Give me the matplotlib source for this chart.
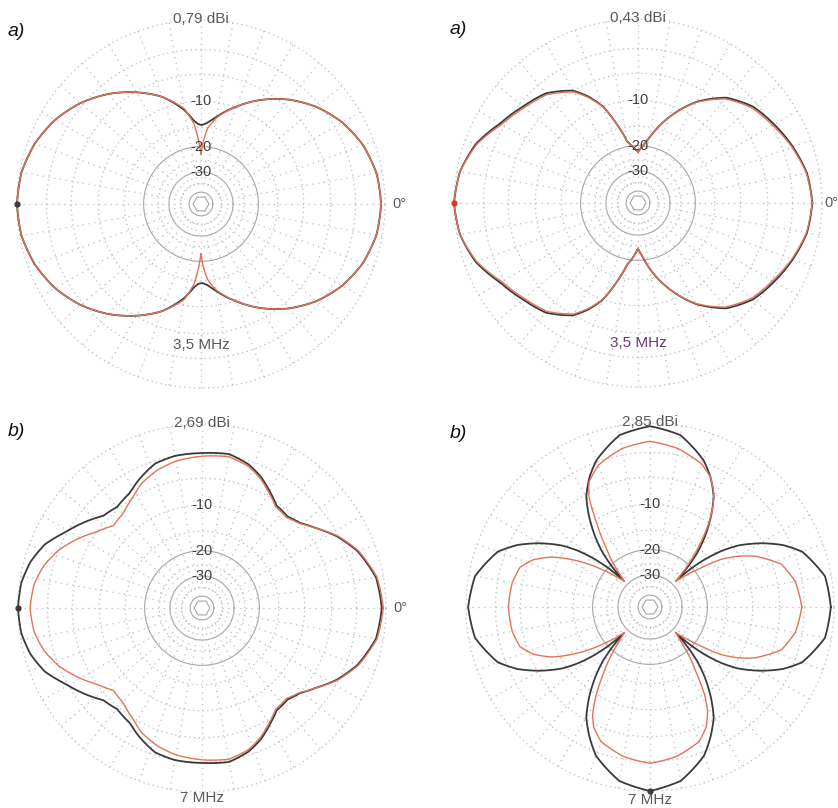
import numpy as np
import matplotlib
matplotlib.use("Agg")
import matplotlib.pyplot as plt
from matplotlib.patches import RegularPolygon

plt.rcParams['font.family'] = ['Liberation Sans', 'DejaVu Sans']

# ---------------- data (relative field strength in dB vs azimuth in degrees) -------------
# Top-left: a) 3,5 MHz, max 0,79 dBi
tl_ang = [0, 10, 20, 30, 40, 50, 60, 70, 80, 85, 88, 90, 92, 95, 100, 110, 120, 130, 140, 150, 160, 170, 180,
          190, 200, 210, 220, 230, 240, 250, 260, 265, 268, 270, 272, 275, 280, 290, 300, 310, 320, 330, 340, 350, 360]
tl_black = [-0.37, -0.55, -1.12, -2.06, -3.4, -5.15, -7.3, -9.85, -12.6, -13.9, -14.4, -14.5, -14.3, -13.5, -11.3,
            -8.2, -6.1, -4.24, -2.71, -1.52, -0.68, -0.16, 0.0,
            -0.16, -0.68, -1.52, -2.71, -4.24, -6.1, -8.2, -11.3, -13.5, -14.3, -14.5, -14.4, -13.9, -12.6,
            -9.85, -7.3, -5.15, -3.4, -2.06, -1.12, -0.55, -0.37]
tl_red = [-0.37, -0.55, -1.12, -2.06, -3.4, -5.15, -7.3, -9.85, -12.8, -15.2, -18.5, -22.5, -18.5, -14.2, -11.0,
          -8.2, -6.1, -4.24, -2.71, -1.52, -0.68, -0.16, 0.0,
          -0.16, -0.68, -1.52, -2.71, -4.24, -6.1, -8.2, -11.0, -14.2, -18.5, -22.5, -18.5, -15.2, -12.8,
          -9.85, -7.3, -5.15, -3.4, -2.06, -1.12, -0.55, -0.37]

# Top-right: a) 3,5 MHz, max 0,43 dBi
tr_ang = [0, 10, 20, 30, 40, 50, 60, 70, 80, 85, 90, 95, 100, 105, 110, 115, 120, 130, 140, 150, 160, 170, 180,
          190, 200, 210, 220, 230, 240, 245, 250, 255, 260, 265, 270, 275, 280, 290, 300, 310, 320, 330, 340, 350, 360]
tr_black = [-0.93, -1.2, -1.9, -2.7, -3.5, -5.0, -7.8, -12.0, -17.5, -20.0, -22.0, -20.5, -18.5, -14.0, -10.0,
            -7.7, -6.0, -4.3, -3.5, -2.5, -1.1, -0.3, 0.0,
            -0.3, -1.1, -2.5, -3.5, -4.3, -6.0, -7.7, -10.0, -14.0, -18.5, -21.0, -24.0, -21.0, -17.5,
            -12.0, -7.8, -5.0, -3.5, -2.7, -1.9, -1.2, -0.93]
tr_red = [-0.95, -1.25, -2.0, -2.9, -3.7, -5.2, -7.9, -12.0, -17.5, -20.0, -22.0, -20.5, -18.5, -14.0, -10.1,
          -7.9, -6.2, -4.5, -3.7, -2.7, -1.2, -0.3, 0.0,
          -0.3, -1.2, -2.7, -3.7, -4.5, -6.2, -7.9, -10.1, -14.0, -18.5, -21.0, -24.0, -21.0, -17.5,
          -12.0, -7.9, -5.2, -3.7, -2.9, -2.0, -1.25, -0.95]

# Bottom-left: b) 7 MHz, max 2,69 dBi
bl_ang = [0, 10, 20, 28, 35, 41, 47, 54, 60, 66, 72, 80, 90, 100, 108, 116, 122, 130, 137, 144, 151, 158, 165, 172, 180,
          188, 195, 202, 209, 216, 223, 230, 238, 244, 252, 260, 270, 280, 288, 294, 300, 306, 313, 319, 325, 332,
          340, 350, 360]
bl_black = [-0.4, -0.7, -1.8, -3.2, -4.8, -6.0, -6.6, -6.4, -5.3, -4.2, -3.4, -2.8, -2.95, -3.0, -3.3, -4.3, -5.2,
            -5.7, -5.3, -4.0, -2.8, -1.4, -0.6, -0.15, 0.0,
            -0.15, -0.6, -1.4, -2.8, -4.0, -5.3, -5.7, -5.2, -4.3, -3.3, -3.0, -2.95, -2.8, -3.4, -4.2, -5.3,
            -6.4, -6.6, -6.0, -4.8, -3.2, -1.8, -0.7, -0.4]
bl_red = [-0.25, -0.6, -1.7, -3.1, -4.8, -6.1, -6.8, -6.6, -5.5, -4.4, -3.6, -3.1, -3.3, -3.6, -4.1, -4.9, -5.9,
          -6.9, -7.2, -6.0, -4.4, -3.0, -2.0, -1.4, -1.16,
          -1.4, -2.0, -3.0, -4.4, -6.0, -7.2, -6.9, -5.9, -4.9, -4.1, -3.6, -3.3, -3.1, -3.6, -4.4, -5.5,
          -6.6, -6.8, -6.1, -4.8, -3.1, -1.7, -0.6, -0.25]

# Bottom-right: b) 7 MHz, max 2,85 dBi
br_ang_black = [0, 10, 20, 25, 30, 35, 38, 41, 43, 45, 47, 49, 52, 56, 60, 65, 70, 80, 90, 100, 110, 115, 120, 124,
                128, 131, 133, 135, 137, 139, 142, 145, 150, 155, 160, 170, 180,
                190, 200, 205, 210, 215, 218, 221, 223, 225, 227, 229, 232, 236, 240, 245, 250, 260, 270, 280, 290,
                295, 300, 304, 308, 311, 313, 315, 317, 319, 322, 325, 330, 335, 340, 350, 360]
br_black = [-0.3, -0.6, -2.2, -3.9, -6.3, -9.3, -12.0, -16.0, -20.0, -27.0, -20.0, -16.0, -12.5, -9.0, -6.3, -4.3,
            -2.8, -0.9, -0.3, -0.9, -2.8, -4.3, -6.3, -9.0, -12.5, -16.0, -20.0, -27.0, -20.0, -16.0, -12.0, -9.3,
            -6.3, -3.9, -2.2, -0.6, -0.2,
            -0.6, -2.2, -3.9, -6.3, -9.3, -12.0, -16.0, -20.0, -27.0, -20.0, -16.0, -12.5, -9.0, -6.3, -4.3, -2.6,
            -0.7, 0.0, -0.7, -2.6, -4.3, -6.3, -9.0, -12.5, -16.0, -20.0, -27.0, -20.0, -16.0, -12.0, -9.3, -6.3,
            -3.9, -2.2, -0.6, -0.3]
br_ang_red = [0, 10, 18, 26, 30, 34, 38, 42, 45, 48, 51, 55, 58, 61, 65, 70, 80, 90, 100, 110, 116, 119, 122, 126,
              130, 133, 135, 138, 142, 146, 150, 153, 158, 163, 170, 180,
              190, 197, 202, 207, 210, 214, 218, 222, 225, 228, 231, 235, 239, 242, 245, 250, 260, 270, 280, 290,
              295, 299, 302, 305, 309, 312, 315, 318, 322, 326, 330, 334, 342, 350, 360]
br_red = [-3.3, -3.8, -4.9, -7.9, -10.2, -13.3, -19.0, -24.0, -28.0, -20.0, -15.0, -10.0, -7.5, -5.8, -4.3, -3.3,
          -2.3, -1.8, -2.3, -3.4, -4.8, -6.5, -10.0, -15.0, -20.0, -25.0, -28.0, -24.0, -19.0, -14.5, -11.0, -8.8,
          -6.5, -5.2, -4.7, -4.5,
          -4.7, -5.2, -6.5, -8.8, -11.0, -14.5, -19.0, -24.0, -28.0, -24.0, -19.0, -14.0, -9.5, -7.0, -5.6, -4.3,
          -3.3, -2.8, -3.3, -4.3, -5.6, -7.5, -10.0, -14.0, -19.0, -24.0, -28.0, -24.0, -19.0, -13.3, -10.2, -7.9,
          -4.9, -3.8, -3.3]

# labels
panel_letters = ["a)", "a)", "b)", "b)"]
max_gain_labels = ["0,79 dBi", "0,43 dBi", "2,69 dBi", "2,85 dBi"]
freq_labels = ["3,5 MHz", "3,5 MHz", "7 MHz", "7 MHz"]
ring_labels = [-10, -20, -30]

# grid definition (dB)
dotted_rings = [0, -3, -6, -10, -15, -25, -38]
solid_rings = [-20, -30, -47]


# ARRL log-periodic radial scale: radius = 0.89 ** (-dB / 2)
def arrl(db):
    return 0.89 ** (-np.asarray(db, dtype=float) / 2.0)


W, H = 838, 808
fig = plt.figure(figsize=(W / 100, H / 100), dpi=100)
fig.patch.set_facecolor("white")

R = 184
centers = [(201, 204), (638, 203), (202, 608), (650, 607)]
panels = [
    (tl_ang, tl_black, tl_ang, tl_red, 180, 'black'),
    (tr_ang, tr_black, tr_ang, tr_red, 180, 'red'),
    (bl_ang, bl_black, bl_ang, bl_red, 180, 'black'),
    (br_ang_black, br_black, br_ang_red, br_red, 270, 'black'),
]
freq_y = [-141, -140, -190, -193]
freq_colors = ["#5a5a5a", "#6a3a6e", "#5a5a5a", "#5a5a5a"]
zero_x = [191, 186, 191, None]
letter_pos = [(8, 31), (450, 30), (8, 431), (450, 434)]

BLACK = "#3a3a3a"
RED = "#e2735a"
GRID = "#c2c2c2"
theta_grid = np.linspace(0, 2 * np.pi, 361)

for i, (cx, cy) in enumerate(centers):
    ax = fig.add_axes([(cx - R) / W, (H - cy - R) / H, 2 * R / W, 2 * R / H], projection='polar')
    ax.set_rlim(0, 1)
    ax.set_axis_off()

    # grid
    for db in dotted_rings:
        ax.plot(theta_grid, np.full_like(theta_grid, arrl(db)), color=GRID, lw=0.95,
                linestyle=(0, (1, 2.6)), zorder=1, clip_on=False)
    for db in solid_rings:
        ax.plot(theta_grid, np.full_like(theta_grid, arrl(db)), color="#a6a6a6", lw=0.8, zorder=1, clip_on=False)
    for a in range(0, 360, 10):
        t = np.deg2rad(a)
        ax.plot([t, t], [arrl(-38), 1.0], color=GRID, lw=0.95, linestyle=(0, (1, 3.4)), zorder=1, clip_on=False)
    ax.add_patch(RegularPolygon((0.5, 0.5), numVertices=6, radius=8 / (2 * R), orientation=np.pi / 6,
                                transform=ax.transAxes, fill=False, ec="#a6a6a6", lw=0.8))

    ang_b, val_b, ang_r, val_r, max_ang, dot_col = panels[i]
    lb, = ax.plot(np.deg2rad(ang_b), arrl(val_b), color=BLACK, lw=1.3, zorder=3, clip_on=False)
    lr, = ax.plot(np.deg2rad(ang_r), arrl(val_r), color=RED, lw=1.0, zorder=4, clip_on=False)
    for ln in (lb, lr):
        ln.get_path()._interpolation_steps = 24
    ax.plot([np.deg2rad(max_ang)], [arrl(0)], 'o', ms=3.5,
            color=(BLACK if dot_col == 'black' else "#d83a2a"), zorder=5, clip_on=False)

    # ring labels
    for db in ring_labels:
        ax.text(np.deg2rad(90), arrl(db), str(db), ha='center', va='center', fontsize=10.5,
                color="#404040", zorder=6)

    ax.text(0.5, 0.5 + 185 / (2 * R), max_gain_labels[i], transform=ax.transAxes, ha='center', va='center',
            fontsize=11, color="#5a5a5a", zorder=6, clip_on=False)
    ax.text(0.5, 0.5 + freq_y[i] / (2 * R), freq_labels[i], transform=ax.transAxes, ha='center', va='center',
            fontsize=11, color=freq_colors[i], zorder=6, clip_on=False)
    if zero_x[i] is not None:
        ax.text(0.5 + zero_x[i] / (2 * R), 0.5, "0°", transform=ax.transAxes, ha='left', va='center',
                fontsize=10.5, color="#5a5a5a", zorder=6, clip_on=False)

    lx, ly = letter_pos[i]
    fig.text(lx / W, 1 - ly / H, panel_letters[i], ha='left', va='center', fontsize=14,
             style='italic', color="#111111")

fig.savefig("out.png", dpi=100, facecolor="white")
